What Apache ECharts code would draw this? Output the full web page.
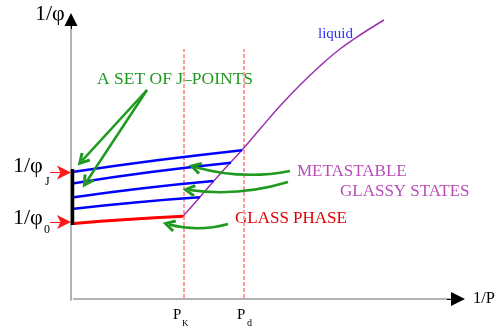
<!DOCTYPE html>
<html><head><meta charset="utf-8">
<script src="https://cdn.jsdelivr.net/npm/echarts@6/dist/echarts.min.js"></script>
<style>html,body{margin:0;padding:0;background:#fff}#c{width:500px;height:329px}</style>
</head><body><div id="c"></div>
<script>
// Data space: x = 1/P, y = 1/phi (arbitrary units)
const liquidX = [28, 32.25, 37.25, 42.75, 47.25, 52.25, 57.25, 62.25, 67.25, 72.25, 78.25];
const liquidY = [27.6, 34, 41.67, 49.67, 56.67, 64.33, 71.33, 77.67, 83.33, 88, 93];
const glassy1 = [[0.75, 42.4], [22, 46.3], [42.75, 49.6]];
const glassy2 = [[0.75, 38.6], [20, 42.3], [40, 45.4]];
const glassy3 = [[0.75, 33.9], [18, 36.9], [35.6, 39.3]];
const glassy4 = [[0.75, 30.1], [16, 32.2], [32.2, 33.9]];
const glassPhase = [[0.75, 25.2], [14, 26.5], [28, 27.6]];
const jPointRange = [24.67, 43.33];
const phiLevels = [42.17, 25.67];          // 1/phi_J, 1/phi_0
const transitionX = [28.25, 43.25];        // P_K, P_d
const transitionTop = 83.3;
const jArrowFrom = [19, 69.67];
const jArrowTo = [[2.78, 46.13], [3.83, 39]];
const metaArrowFrom = [[54.75, 42.67], [54.25, 39]];
const metaArrowTo = [[31, 44], [29.5, 36.33]];
const glassArrowFrom = [39.25, 25];
const glassArrowTo = [24.5, 24.83];
const axisEnd = {x: 96.75, y: 93.17};

const chevron = 'path://M5,0 L10,10 L8,11.5 L5,5 L2,11.5 L0,10 Z';
const redHead = 'path://M5,0 L10,16 L5,12 L0,16 Z';
const serif = '"Liberation Serif","DejaVu Serif",serif';
const GREEN = '#1f9a1f';

function txt(x, y, s, size, color) {
  return {type: 'text', x: x, y: y, silent: true,
    style: {text: s, fill: color || '#000', fontSize: size, fontFamily: serif, verticalAlign: 'middle', align: 'left'}};
}

const blueLine = (d) => ({type: 'line', data: d, smooth: true, symbol: 'none', z: 4,
  lineStyle: {color: '#0000ff', width: 2.5}});

const option = {
  animation: false,
  grid: {left: 0, right: 0, top: 0, bottom: 0},
  xAxis: {type: 'value', min: -17.75, max: 107.25, show: false},
  yAxis: {type: 'value', min: -10, max: 99.6667, show: false},
  series: [
    // axes (gray lines)
    {type: 'lines', coordinateSystem: 'cartesian2d', z: 1, silent: true,
      lineStyle: {color: '#9a9a9a', width: 1.5, opacity: 1},
      data: [{coords: [[0, -0.6], [0, 91]]}, {coords: [[0.5, 0], [94.9, 0]]}]},
    // axis arrow heads
    {type: 'lines', coordinateSystem: 'cartesian2d', z: 2, silent: true,
      symbol: ['none', 'triangle'], symbolSize: [7, 13],
      lineStyle: {color: '#000', width: 1, opacity: 1},
      data: [{coords: [[0, 90], [0, axisEnd.y]]}, {coords: [[94, 0], [axisEnd.x, 0]], symbolSize: [7, 14]}]},
    // dashed transitions
    ...transitionX.map(x => ({type: 'line', data: [[x, 0.3], [x, transitionTop]], symbol: 'none', z: 1,
      itemStyle: {color: '#ff9c9c'},
      lineStyle: {color: '#ff9c9c', width: 2, type: [4, 2], opacity: 1}})),
    // liquid
    {type: 'line', data: liquidX.map((x, i) => [x, liquidY[i]]), smooth: 0.4, symbol: 'none', z: 3,
      lineStyle: {color: '#9b30b0', width: 1.5}},
    blueLine(glassy1), blueLine(glassy2), blueLine(glassy3), blueLine(glassy4),
    {type: 'line', data: glassPhase, smooth: true, symbol: 'none', z: 4,
      lineStyle: {color: '#ff0000', width: 3}},
    // J-points segment
    {type: 'line', data: [[0.375, jPointRange[0]], [0.375, jPointRange[1]]], symbol: 'none', z: 5,
      lineStyle: {color: '#000', width: 3.5}},
    // red arrows
    {type: 'lines', coordinateSystem: 'cartesian2d', z: 5, silent: true,
      symbol: ['none', redHead], symbolSize: [8, 14],
      lineStyle: {color: '#ff1a1a', width: 1, opacity: 1},
      data: phiLevels.map(y => ({coords: [[-5.25, y], [-1.75, y]]}))},
    // green arrows
    {type: 'lines', coordinateSystem: 'cartesian2d', z: 6, silent: true,
      symbol: ['none', chevron], symbolSize: [10, 13],
      lineStyle: {color: GREEN, width: 2.5, opacity: 1},
      data: [
        {coords: [jArrowFrom, jArrowTo[0]]},
        {coords: [jArrowFrom, jArrowTo[1]]},
        {coords: [metaArrowFrom[0], metaArrowTo[0]], lineStyle: {curveness: 0.12}},
        {coords: [metaArrowFrom[1], metaArrowTo[1]], lineStyle: {curveness: 0.11}},
        {coords: [glassArrowFrom, glassArrowTo], lineStyle: {curveness: 0.135}}
      ]}
  ],
  graphic: [
    txt(35, 14, '1/φ', 22),
    txt(13, 166, '1/φ', 22), txt(45, 182, 'J', 12),
    txt(13, 218, '1/φ', 22), txt(44, 230, '0', 12),
    txt(97, 79, 'A SET OF J–POINTS', 17.5, GREEN),
    txt(318, 34, 'liquid', 15, '#3030ff'),
    txt(297, 172, 'METASTABLE', 17, '#b84db8'),
    txt(340, 192, 'GLASSY STATES', 17, '#b84db8'),
    txt(235, 219, 'GLASS PHASE', 17, '#dd0000'),
    txt(473, 299, '1/P', 16.5),
    txt(173, 315, 'P', 15), txt(182, 324, 'K', 9),
    txt(237, 315, 'P', 15), txt(247, 323, 'd', 10)
  ]
};
echarts.init(document.getElementById('c'), null, {renderer: 'canvas'}).setOption(option);
</script></body></html>
